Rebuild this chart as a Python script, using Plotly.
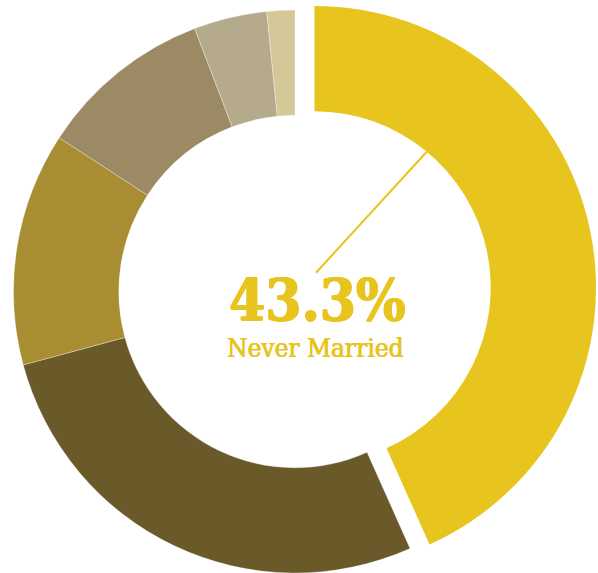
import plotly.graph_objects as go

# Marital status shares (percent), clockwise from 12 o'clock
categories = ["Never Married", "Married", "Divorced", "Separated", "Widowed", "Other"]
shares = [43.3, 27.5, 13.4, 10.0, 4.2, 1.6]
colors = ["#E8C41E", "#6A5929", "#A88D32", "#9B8A64", "#B6AA8C", "#D4C898"]

W, H = 598, 573
R = 281.5            # outer radius in px
HOLE = 0.626
CX, CY = 295, 291.5  # ring centre (px from top-left)
PULL_DX, PULL_DY = 19.5, -4  # offset of the highlighted slice

clear = "rgba(0,0,0,0)"
seam = "rgba(255,255,255,0.45)"


def domain(cx, cy):
    cy_b = H - cy
    return dict(x=[(cx - R) / W, (cx + R) / W], y=[(cy_b - R) / H, (cy_b + R) / H])


# Ring of the remaining categories (highlighted slice left empty)
ring_colors = [clear] + colors[1:]
ring_lines = [0] + [0.7] * (len(shares) - 1)
# Highlighted slice, drawn offset outward
hl_colors = [colors[0]] + [clear] * (len(shares) - 1)
hl_lines = [0] * len(shares)

fig = go.Figure()
fig.add_trace(go.Pie(
    labels=categories, values=shares, hole=HOLE, sort=False,
    direction="clockwise", rotation=0, textinfo="none",
    marker=dict(colors=ring_colors, line=dict(color=seam, width=ring_lines)),
    domain=domain(CX, CY), showlegend=False, hoverinfo="label+percent",
))
fig.add_trace(go.Pie(
    labels=categories, values=shares, hole=HOLE, sort=False,
    direction="clockwise", rotation=0, textinfo="none",
    marker=dict(colors=hl_colors, line=dict(color=clear, width=hl_lines)),
    domain=domain(CX + PULL_DX, CY + PULL_DY), showlegend=False, hoverinfo="skip",
))

# Leader line from the label to the highlighted slice
fig.add_shape(type="line", xref="paper", yref="paper",
              x0=316 / W, y0=1 - 272.7 / H, x1=427 / W, y1=1 - 151.5 / H,
              line=dict(color=colors[0], width=2))

heavy = f"0.8px 0 0 {colors[0]}, -0.8px 0 0 {colors[0]}, 0 0.5px 0 {colors[0]}"
semi = f"0.5px 0 0 {colors[0]}, -0.3px 0 0 {colors[0]}"

fig.add_annotation(x=317 / W, y=1 - 300 / H, xref="paper", yref="paper",
                   text=f"<b>{shares[0]}%</b>", showarrow=False,
                   xanchor="center", yanchor="middle",
                   font=dict(family="DejaVu Serif Condensed, DejaVu Serif", size=58,
                             color=colors[0], shadow=heavy))
fig.add_annotation(x=315 / W, y=1 - 348 / H, xref="paper", yref="paper",
                   text=categories[0], showarrow=False,
                   xanchor="center", yanchor="middle",
                   font=dict(family="DejaVu Serif Condensed, DejaVu Serif", size=26,
                             color=colors[0], shadow=semi))

fig.update_layout(width=W, height=H, margin=dict(l=0, r=0, t=0, b=0),
                  paper_bgcolor="white", plot_bgcolor="white")

fig.write_html("out.html")
